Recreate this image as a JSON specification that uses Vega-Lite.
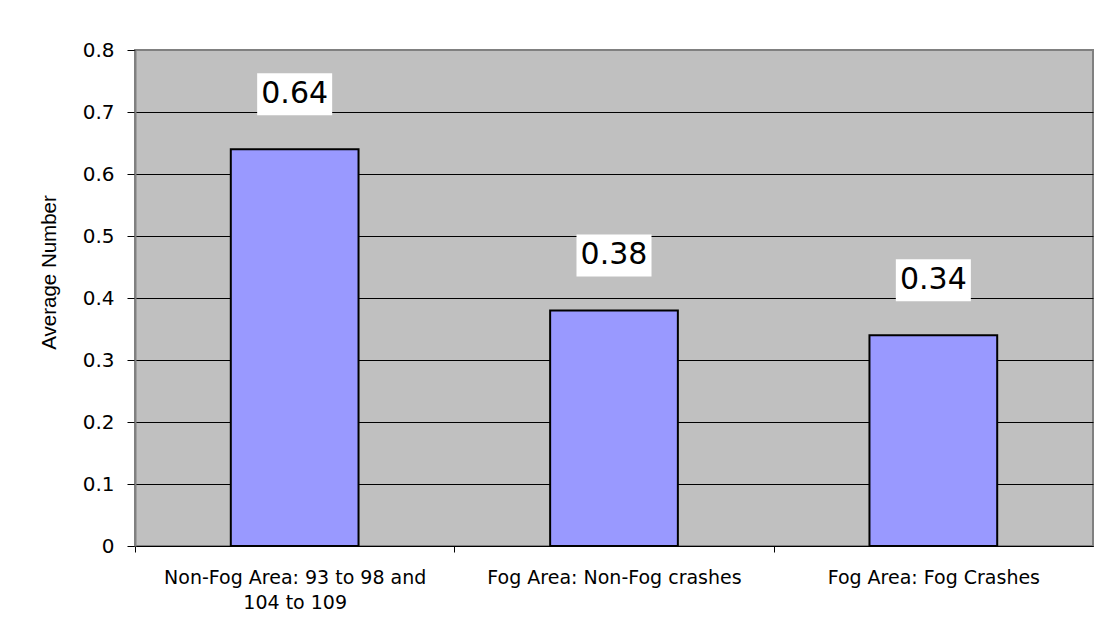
{
  "$schema": "https://vega.github.io/schema/vega-lite/v6.json",
  "width": 958,
  "height": 496,
  "autosize": {"type": "none"},
  "padding": {"left": 135, "top": 50, "right": 19, "bottom": 89},
  "background": "white",
  "data": {
    "values": [
      {"category": "Non-Fog Area: 93 to 98 and 104 to 109", "value": 0.64},
      {"category": "Fog Area: Non-Fog crashes", "value": 0.38},
      {"category": "Fog Area: Fog Crashes", "value": 0.34}
    ]
  },
  "encoding": {
    "x": {
      "field": "category",
      "type": "nominal",
      "sort": null,
      "scale": {"paddingInner": 0.6, "paddingOuter": 0.3},
      "axis": {
        "title": null,
        "grid": false,
        "tickOffset": -159.67,
        "labelOffset": 159.67,
        "tickSize": 6,
        "tickColor": "black",
        "domainColor": "black",
        "labelFont": "DejaVu Sans",
        "labelFontSize": 19,
        "labelColor": "black",
        "labelPadding": 16,
        "labelLineHeight": 25,
        "labelLimit": 0,
        "labelAngle": 0,
        "labelBaseline": "top",
        "labelExpr": "datum.label == 'Non-Fog Area: 93 to 98 and 104 to 109' ? ['Non-Fog Area: 93 to 98 and', '104 to 109'] : datum.label"
      }
    },
    "y": {
      "field": "value",
      "type": "quantitative",
      "scale": {"domain": [0, 0.8], "nice": false},
      "axis": {
        "values": [0, 0.1, 0.2, 0.3, 0.4, 0.5, 0.6, 0.7, 0.8],
        "format": ".1~f",
        "grid": true,
        "gridColor": {"condition": {"test": "datum.value >= 0.79", "value": "#808080"}, "value": "black"},
        "gridWidth": 1,
        "gridOpacity": 1,
        "tickSize": 8,
        "tickColor": "black",
        "domainColor": "#808080",
        "domainWidth": 2,
        "labelFont": "DejaVu Sans",
        "labelFontSize": 20,
        "labelColor": "black",
        "labelPadding": 13,
        "title": "Average Number",
        "titleFont": "Liberation Sans",
        "titleFontSize": 20.5,
        "titleFontWeight": "normal",
        "titleColor": "black",
        "titleAngle": -90,
        "titleAlign": "center",
        "titleBaseline": "middle",
        "titleX": -86,
        "titleY": 222
      }
    }
  },
  "layer": [
    {"mark": {"type": "bar", "fill": "#9999FF", "stroke": "black", "strokeWidth": 2}},
    {"mark": {"type": "point", "shape": "M-1,-0.56L1,-0.56L1,0.56L-1,0.56Z", "size": 5625, "filled": true, "fill": "white", "strokeWidth": 0, "opacity": 1, "yOffset": -55}},
    {"mark": {"type": "text", "font": "DejaVu Sans", "fontSize": 30, "baseline": "middle", "align": "center", "yOffset": -55, "color": "black"},
     "encoding": {"text": {"field": "value", "type": "quantitative", "format": ".2f"}}}
  ],
  "config": {"view": {"fill": "#C0C0C0", "stroke": "#808080", "strokeWidth": 2}}
}
